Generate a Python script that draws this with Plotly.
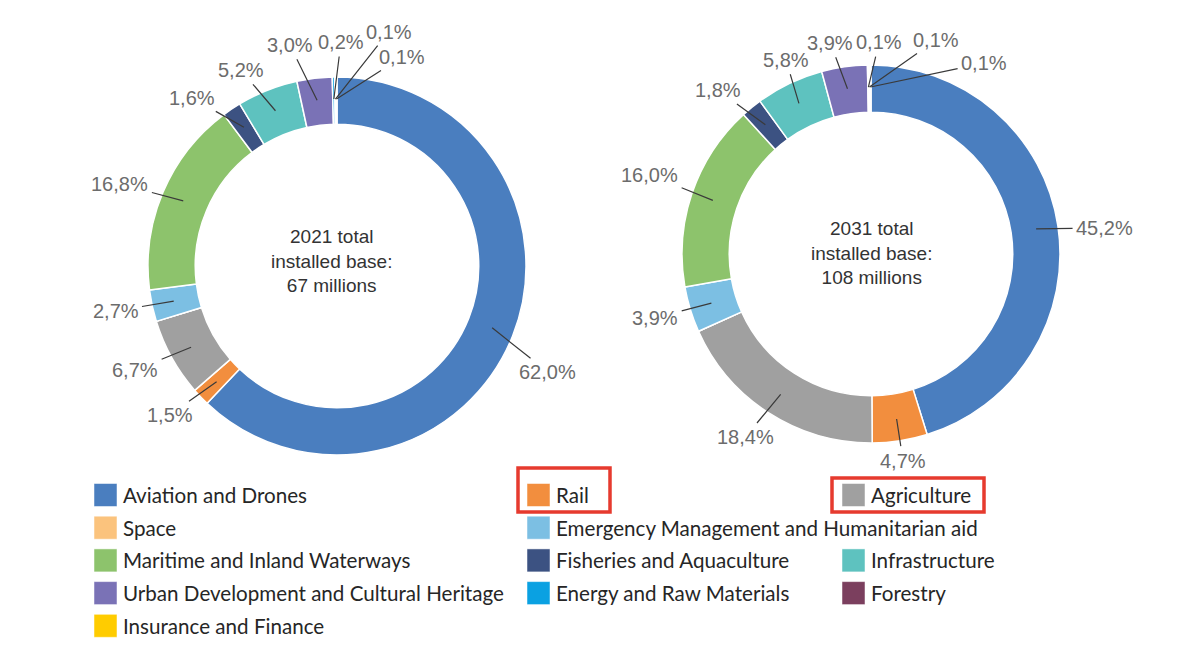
import math
import plotly.graph_objects as go

W, H = 1182, 664

categories = ["Aviation and Drones", "Rail", "Agriculture", "Space",
              "Emergency Management and Humanitarian aid",
              "Maritime and Inland Waterways", "Fisheries and Aquaculture",
              "Infrastructure", "Urban Development and Cultural Heritage",
              "Energy and Raw Materials", "Forestry", "Insurance and Finance"]
colors = ["#4a7ebf", "#f28e3e", "#a0a0a0", "#fbc37d", "#7cbfe3", "#8dc36c",
          "#3c5282", "#5ec2bf", "#7a72b6", "#0aa1e2", "#7b3f5e", "#ffcc00"]

values_2021 = [62.0, 1.5, 6.7, 0.0, 2.7, 16.8, 1.6, 5.2, 3.0, 0.2, 0.1, 0.1]
values_2031 = [45.2, 4.7, 18.4, 0.0, 3.9, 16.0, 1.8, 5.8, 3.9, 0.1, 0.1, 0.1]

center_2021 = "2021 total<br>installed base:<br>67 millions"
center_2031 = "2031 total<br>installed base:<br>108 millions"

# layout (pixels): pie centre and radius, label placement tweaks
pies = [
    dict(values=values_2021, cx=337, cy=266, r=189, text=center_2021, tdx=-6, tdy=-5,
         ang_shift=[5.0, 2.2, 1.8, 0, 0.7, -2.3, -6.9, -4.5, -5.2, 2.1, 13.0, 17.5],
         lab_r=[236, 224, 227, 0, 226, 232, 222, 218, 226, 224, 240, 219]),
    dict(values=values_2031, cx=871, cy=254, r=189, text=center_2031, tdx=0, tdy=-1,
         ang_shift=[2.3, 0, 1.7, 0, 0.6, 1.0, -3.8, 1.9, -2.8, 3.1, 17.5, 30.8],
         lab_r=[235, 209, 222, 0, 225, 235, 224, 212, 215, 212, 224, 222]),
]

def fx(px):
    return px / W

def fy(py):
    return 1 - py / H

def fmt(v):
    return f"{v:.1f}".replace(".", ",") + "%"

fig = go.Figure()
annotations = []
shapes = []

LABEL_FONT = dict(family="Liberation Sans, Arial, sans-serif", size=20, color="#6c6c6c")

for p in pies:
    cx, cy, r = p["cx"], p["cy"], p["r"]
    fig.add_trace(go.Pie(
        labels=categories, values=p["values"], sort=False, direction="clockwise",
        rotation=0, hole=0.75, textinfo="none", showlegend=False,
        marker=dict(colors=colors, line=dict(color="white", width=1.5)),
        domain=dict(x=[fx(cx - r), fx(cx + r)], y=[fy(cy + r), fy(cy - r)]),
        hovertemplate="%{label}: %{value:.1f}%<extra></extra>",
    ))
    total = sum(p["values"])
    cum = 0.0
    for i, v in enumerate(p["values"]):
        mid = (cum + v / 2) / total * 360.0
        cum += v
        if v <= 0:
            continue
        a = math.radians(mid)
        sx = cx + 167 * math.sin(a)
        sy = cy - 167 * math.cos(a)
        b = math.radians(mid + p["ang_shift"][i])
        tx = cx + p["lab_r"][i] * math.sin(b)
        ty = cy - p["lab_r"][i] * math.cos(b)
        annotations.append(dict(
            x=fx(sx), y=fy(sy), xref="paper", yref="paper",
            ax=tx - sx, ay=ty - sy, axref="pixel", ayref="pixel",
            text=fmt(v), showarrow=True, arrowhead=0, arrowwidth=1.2,
            arrowcolor="#3a3a3a", standoff=0, startstandoff=2,
            font=LABEL_FONT))
    annotations.append(dict(
        x=fx(cx + p["tdx"]), y=fy(cy + p["tdy"]), xref="paper", yref="paper",
        showarrow=False, xanchor="center", yanchor="middle",
        text=p["text"], align="center",
        font=dict(family="Liberation Sans, Arial, sans-serif", size=19, color="#333333")))

# legend drawn as swatches + text
legend_row = [0, 0, 0, 1, 1, 2, 2, 2, 3, 3, 3, 4]
legend_col = [0, 1, 2, 0, 1, 0, 1, 2, 0, 1, 2, 0]
col_x = [94, 527, 842]
row_y0, row_step = 495, 32.7
sw = 23
for i, name in enumerate(categories):
    x0 = col_x[legend_col[i]]
    yc = row_y0 + row_step * legend_row[i]
    shapes.append(dict(type="rect", xref="paper", yref="paper",
                       x0=fx(x0), x1=fx(x0 + sw), y0=fy(yc + sw / 2), y1=fy(yc - sw / 2),
                       fillcolor=colors[i], line=dict(color="white", width=0.5)))
    annotations.append(dict(
        x=fx(x0 + sw + 4), y=fy(yc), xref="paper", yref="paper", showarrow=False,
        xanchor="left", yanchor="middle", text=name,
        font=dict(family="Lato, Noto Sans, sans-serif", size=20.6, color="#262626")))

# highlight boxes
for (x0, y0, x1, y1) in [(518, 468, 610, 512), (832, 478, 984, 512)]:
    shapes.append(dict(type="rect", xref="paper", yref="paper",
                       x0=fx(x0), x1=fx(x1), y0=fy(y1), y1=fy(y0),
                       line=dict(color="#e63a2e", width=3.5), fillcolor="rgba(0,0,0,0)"))

fig.update_layout(
    width=W, height=H, margin=dict(l=0, r=0, t=0, b=0),
    paper_bgcolor="white", plot_bgcolor="white",
    annotations=annotations, shapes=shapes,
)
fig.write_html("out.html")
